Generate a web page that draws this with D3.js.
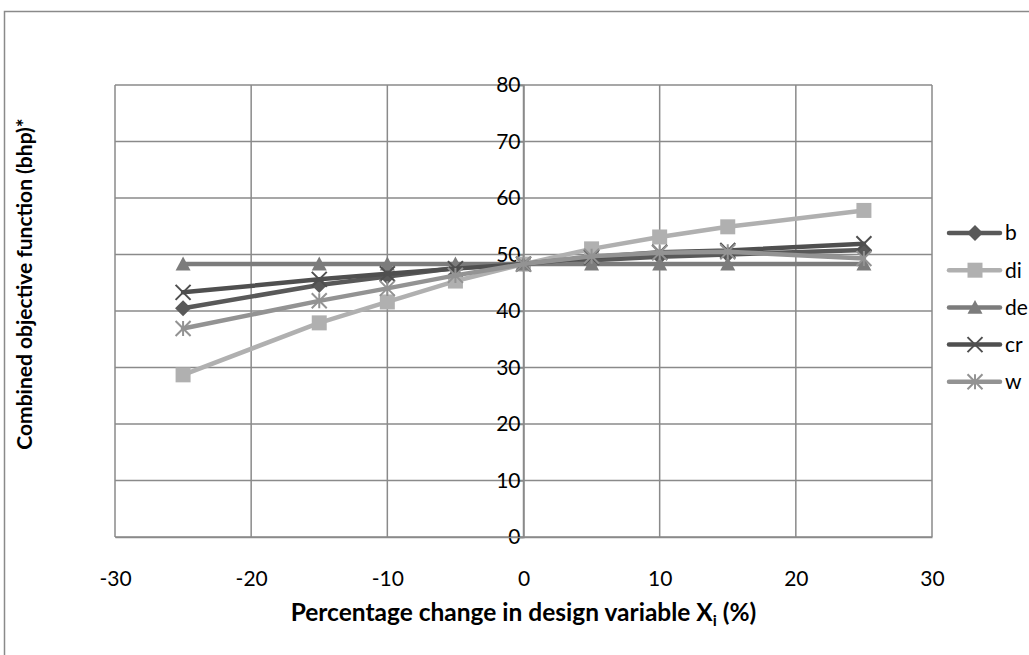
<!DOCTYPE html>
<html>
<head>
<meta charset="utf-8">
<script src="https://cdn.jsdelivr.net/npm/d3@7"></script>
<style>
  html, body { margin: 0; padding: 0; background: #fff; }
  svg { display: block; font-family: Lato, "Open Sans", sans-serif; }
</style>
</head>
<body>
<svg id="chart" width="1029" height="655"></svg>
<script>
// Percentage change in each design variable
const xValues = [-25, -15, -10, -5, 0, 5, 10, 15, 25];

// Combined objective function (bhp) per series
const bValues  = [40.5, 44.6, 46.1, 47.6, 48.3, 49.0, 49.6, 50.0, 50.8];
const diValues = [28.7, 37.9, 41.6, 45.3, 48.3, 51.0, 53.1, 54.9, 57.8];
const deValues = [48.3, 48.3, 48.3, 48.3, 48.3, 48.3, 48.3, 48.3, 48.3];
const crValues = [43.3, 45.6, 46.6, 47.5, 48.3, 49.5, 50.4, 50.7, 51.9];
const wValues  = [36.9, 41.8, 44.0, 46.3, 48.3, 49.7, 50.3, 50.5, 49.3];

const seriesNames = ["b", "di", "de", "cr", "w"];
const xTicks = [-30, -20, -10, 0, 10, 20, 30];
const yTicks = [0, 10, 20, 30, 40, 50, 60, 70, 80];

const series = [
  { name: seriesNames[0], values: bValues,  color: "#595959", marker: "diamond" },
  { name: seriesNames[1], values: diValues, color: "#b0b0b0", marker: "square" },
  { name: seriesNames[2], values: deValues, color: "#7c7c7c", marker: "triangle" },
  { name: seriesNames[3], values: crValues, color: "#4f4f4f", marker: "cross" },
  { name: seriesNames[4], values: wValues,  color: "#939393", marker: "star" }
];

const svg = d3.select("#chart");
const gridColor = "#8a8a8a";
const plainNumber = d => String(d);

// Outer chart frame (runs off the right and bottom edges)
svg.append("path")
  .attr("d", "M4.5,660 L4.5,11.5 L1035,11.5")
  .attr("fill", "none")
  .attr("stroke", gridColor)
  .attr("stroke-width", 1.5);

const x = d3.scaleLinear().domain([-30, 30]).range([115, 932]);
const y = d3.scaleLinear().domain([0, 80]).range([537, 85]);

// Gridlines
const grid = svg.append("g");
grid.selectAll("line.h").data(yTicks).join("line")
  .attr("x1", x(-30)).attr("x2", x(30))
  .attr("y1", d => y(d)).attr("y2", d => y(d))
  .attr("stroke", gridColor).attr("stroke-width", 1.5);
grid.selectAll("line.v").data(xTicks).join("line")
  .attr("y1", y(0)).attr("y2", y(80))
  .attr("x1", d => x(d)).attr("x2", d => x(d))
  .attr("stroke", gridColor).attr("stroke-width", 1.5);

// Y axis crosses at x = 0
const yAxis = d3.axisLeft(y).tickValues(yTicks).tickFormat(plainNumber).tickSize(5).tickPadding(-2);
const yg = svg.append("g").attr("transform", `translate(${x(0)},0)`).call(yAxis);
yg.select(".domain").attr("stroke", gridColor).attr("stroke-width", 1.5);
yg.selectAll(".tick line").attr("stroke", gridColor).attr("stroke-width", 1.5);
yg.selectAll(".tick text")
  .attr("font-size", 21).attr("fill", "#000")
  .attr("font-family", "Lato, sans-serif");

// X axis labels below the plot
const xAxis = d3.axisBottom(x).tickValues(xTicks).tickFormat(plainNumber).tickSize(0).tickPadding(34);
const xg = svg.append("g").attr("transform", `translate(0,${y(0)})`).call(xAxis);
xg.select(".domain").attr("stroke", gridColor).attr("stroke-width", 1.5);
xg.selectAll(".tick text")
  .attr("font-size", 21).attr("fill", "#000")
  .attr("font-family", "Lato, sans-serif");

// Marker shapes
function markerPath(type, s) {
  const h = s / 2;
  switch (type) {
    case "diamond": return `M0,${-h}L${h},0L0,${h}L${-h},0Z`;
    case "square": return `M${-h},${-h}H${h}V${h}H${-h}Z`;
    case "triangle": return `M0,${-h}L${h},${h * 0.85}L${-h},${h * 0.85}Z`;
    case "cross": return `M${-h},${-h}L${h},${h}M${h},${-h}L${-h},${h}`;
    case "star": return `M${-h},${-h}L${h},${h}M${h},${-h}L${-h},${h}M0,${-h}L0,${h}`;
  }
}
function drawMarker(g, type, color) {
  const filled = type !== "cross" && type !== "star";
  const size = type === "diamond" ? 16 : 15;
  g.append("path")
    .attr("d", markerPath(type, size))
    .attr("fill", filled ? color : "none")
    .attr("stroke", color)
    .attr("stroke-width", filled ? 0 : 2);
}

const line = d3.line().x((d, i) => x(xValues[i])).y(d => y(d));

series.forEach(s => {
  const g = svg.append("g");
  g.append("path")
    .attr("d", line(s.values))
    .attr("fill", "none")
    .attr("stroke", s.color)
    .attr("stroke-width", 4.5)
    .attr("stroke-linejoin", "round")
    .attr("stroke-linecap", "round");
  s.values.forEach((v, i) => {
    const mg = g.append("g").attr("transform", `translate(${x(xValues[i])},${y(v)})`);
    drawMarker(mg, s.marker, s.color);
  });
});

// Legend
const legend = svg.append("g");
series.forEach((s, i) => {
  const ly = 233 + i * 37.2;
  const lg = legend.append("g").attr("transform", `translate(0,${ly})`);
  lg.append("line")
    .attr("x1", 949).attr("x2", 1000).attr("y1", 0).attr("y2", 0)
    .attr("stroke", s.color).attr("stroke-width", 4.5).attr("stroke-linecap", "round");
  const mg = lg.append("g").attr("transform", "translate(975,0)");
  drawMarker(mg, s.marker, s.color);
  lg.append("text")
    .attr("x", 1005).attr("y", 0).attr("dy", "0.35em")
    .attr("font-size", 21).attr("fill", "#000")
    .text(s.name);
});

// Axis titles
svg.append("text")
  .attr("transform", `translate(25,284) rotate(-90)`)
  .attr("text-anchor", "middle")
  .attr("dy", "0.35em")
  .attr("font-size", 21).attr("font-weight", "bold")
  .text("Combined objective function (bhp)*");

const xt = svg.append("text")
  .attr("x", x(0)).attr("y", 621)
  .attr("text-anchor", "middle")
  .attr("font-size", 24.5).attr("font-weight", "bold");
xt.append("tspan").text("Percentage change in design variable X");
xt.append("tspan").attr("font-size", 16).attr("dy", 5).text("i");
xt.append("tspan").attr("dy", -5).text(" (%)");
</script>
</body>
</html>
